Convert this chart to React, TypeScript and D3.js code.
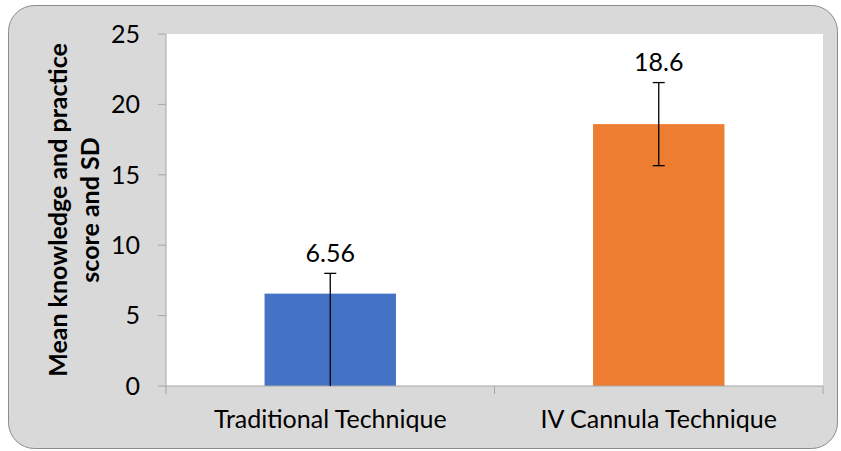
import { useEffect } from 'react';
import * as d3 from 'd3';

const categories = ['Traditional Technique', 'IV Cannula Technique'];
const means = [6.56, 18.6];
const errLow = [0, 15.65];
const errHigh = [8.0, 21.55];
const yTicks = [0, 5, 10, 15, 20, 25];
const colors = ['#4472C4', '#ED7D31'];
const yTitle = ['Mean knowledge and practice', 'score and SD'];

const W = 841;
const H = 451;
const plot = { left: 166, right: 823, top: 34, bottom: 386 };
const font = 'Lato, "Open Sans", sans-serif';
const fs = 25;

export default function App() {
  useEffect(() => {
    document.body.style.margin = '0';
  }, []);

  const x = d3.scaleBand<string>()
    .domain(categories)
    .range([plot.left, plot.right])
    .paddingInner(0)
    .paddingOuter(0);

  const y = d3.scaleLinear()
    .domain([0, 25])
    .range([plot.bottom, plot.top]);

  const barW = x.bandwidth() * 0.4;
  const capW = 12;

  return (
    <svg width={W} height={H} style={{ display: 'block' }}>
      <rect x={8.5} y={5.5} width={829} height={443} rx={26} ry={26}
        fill="#D9D9D9" stroke="#8C8C8C" strokeWidth={1} />
      <rect x={plot.left} y={plot.top} width={plot.right - plot.left}
        height={plot.bottom - plot.top} fill="#FFFFFF" />

      {categories.map((c, i) => (
        <rect key={c} x={x(c)! + (x.bandwidth() - barW) / 2} y={y(means[i])}
          width={barW} height={y(0) - y(means[i])} fill={colors[i]} />
      ))}

      {/* y axis */}
      <line x1={plot.left} x2={plot.left} y1={plot.top} y2={plot.bottom} stroke="#A6A6A6" />
      {yTicks.map(t => (
        <g key={t}>
          <line x1={plot.left - 8} x2={plot.left} y1={y(t)} y2={y(t)} stroke="#A6A6A6" />
          <text x={140} y={y(t)} dy="0.35em" textAnchor="end" fontFamily={font}
            fontSize={fs} fill="#000">{t}</text>
        </g>
      ))}

      {/* x axis */}
      <line x1={plot.left} x2={plot.right} y1={plot.bottom} y2={plot.bottom} stroke="#A6A6A6" />
      {[...categories.map(c => x(c)!), plot.right].map((p, i) => (
        <line key={i} x1={p} x2={p} y1={plot.bottom} y2={plot.bottom + 8} stroke="#A6A6A6" />
      ))}
      {categories.map(c => (
        <text key={c} x={x(c)! + x.bandwidth() / 2} y={428} textAnchor="middle"
          fontFamily={font} fontSize={fs} fill="#000">{c}</text>
      ))}

      {/* error bars */}
      {categories.map((c, i) => {
        const cx = x(c)! + x.bandwidth() / 2;
        return (
          <g key={c} stroke="#000" strokeWidth={1.3}>
            <line x1={cx} x2={cx} y1={y(errLow[i])} y2={y(errHigh[i])} />
            <line x1={cx - capW / 2} x2={cx + capW / 2} y1={y(errHigh[i])} y2={y(errHigh[i])} />
            {errLow[i] > 0 && (
              <line x1={cx - capW / 2} x2={cx + capW / 2} y1={y(errLow[i])} y2={y(errLow[i])} />
            )}
          </g>
        );
      })}

      {/* value labels */}
      {categories.map((c, i) => (
        <text key={c} x={x(c)! + x.bandwidth() / 2} y={y(errHigh[i]) - 11.5}
          textAnchor="middle" fontFamily={font} fontSize={fs} fill="#000">{means[i]}</text>
      ))}

      {/* y title */}
      {yTitle.map((l, i) => (
        <text key={l} transform={`translate(${i === 0 ? 67 : 99},${(plot.top + plot.bottom) / 2}) rotate(-90)`}
          textAnchor="middle" fontFamily={font} fontSize={fs} fontWeight="bold" fill="#000">{l}</text>
      ))}
    </svg>
  );
}
